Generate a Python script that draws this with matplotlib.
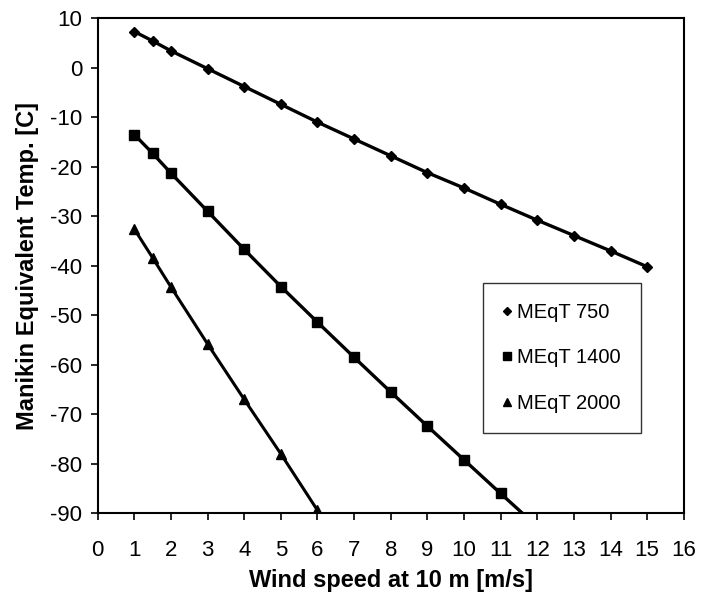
import matplotlib
matplotlib.use("Agg")
import matplotlib.pyplot as plt

plt.rcParams['font.family'] = ['Liberation Sans', 'DejaVu Sans']
plt.rcParams['axes.unicode_minus'] = False

x750 = [1, 1.5, 2, 3, 4, 5, 6, 7, 8, 9, 10, 11, 12, 13, 14, 15]
y750 = [7.3, 5.4, 3.4, -0.2, -3.8, -7.4, -11.0, -14.4, -17.8, -21.2, -24.3, -27.6, -30.8, -33.9, -37.0, -40.2]

x1400 = [1, 1.5, 2, 3, 4, 5, 6, 7, 8, 9, 10, 11, 12]
y1400 = [-13.5, -17.3, -21.3, -29.0, -36.7, -44.2, -51.4, -58.5, -65.5, -72.4, -79.2, -86.0, -92.7]

x2000 = [1, 1.5, 2, 3, 4, 5, 6]
y2000 = [-32.6, -38.4, -44.3, -55.8, -67.0, -78.0, -89.4]

fig = plt.figure(figsize=(7.13, 6.06), dpi=100)
ax = fig.add_axes([0.137, 0.153, 0.822, 0.817])

ax.plot(x750, y750, color='black', lw=2.4, marker='D', ms=5.5, label='MEqT 750')
ax.plot(x1400, y1400, color='black', lw=2.4, marker='s', ms=7.5, label='MEqT 1400')
ax.plot(x2000, y2000, color='black', lw=2.2, marker='^', ms=7.5, label='MEqT 2000')

ax.set_xlim(0, 16)
ax.set_ylim(-90, 10)
ax.set_xticks(range(0, 17))
ax.set_yticks(range(-90, 11, 10))
ax.tick_params(direction='out', length=5, width=1.2, labelsize=16)
ax.tick_params(axis='x', pad=14)
ax.tick_params(axis='y', pad=6)
for s in ax.spines.values():
    s.set_linewidth(1.5)

ax.set_xlabel('Wind speed at 10 m [m/s]', fontsize=17, fontweight='bold', labelpad=6)
ax.set_ylabel('Manikin Equivalent Temp. [C]', fontsize=17, fontweight='bold', labelpad=8)

leg = ax.legend(loc='upper left', bbox_to_anchor=(0.657, 0.465), fontsize=14.5,
                frameon=True, fancybox=False, edgecolor='black', labelspacing=1.3,
                handlelength=0.4, handletextpad=0.3, borderpad=1.0, markerscale=0.75,
                borderaxespad=0)
leg.get_frame().set_linewidth(1.0)
for h in leg.get_lines():
    h.set_linestyle('None')

fig.savefig('out.png', dpi=100)
